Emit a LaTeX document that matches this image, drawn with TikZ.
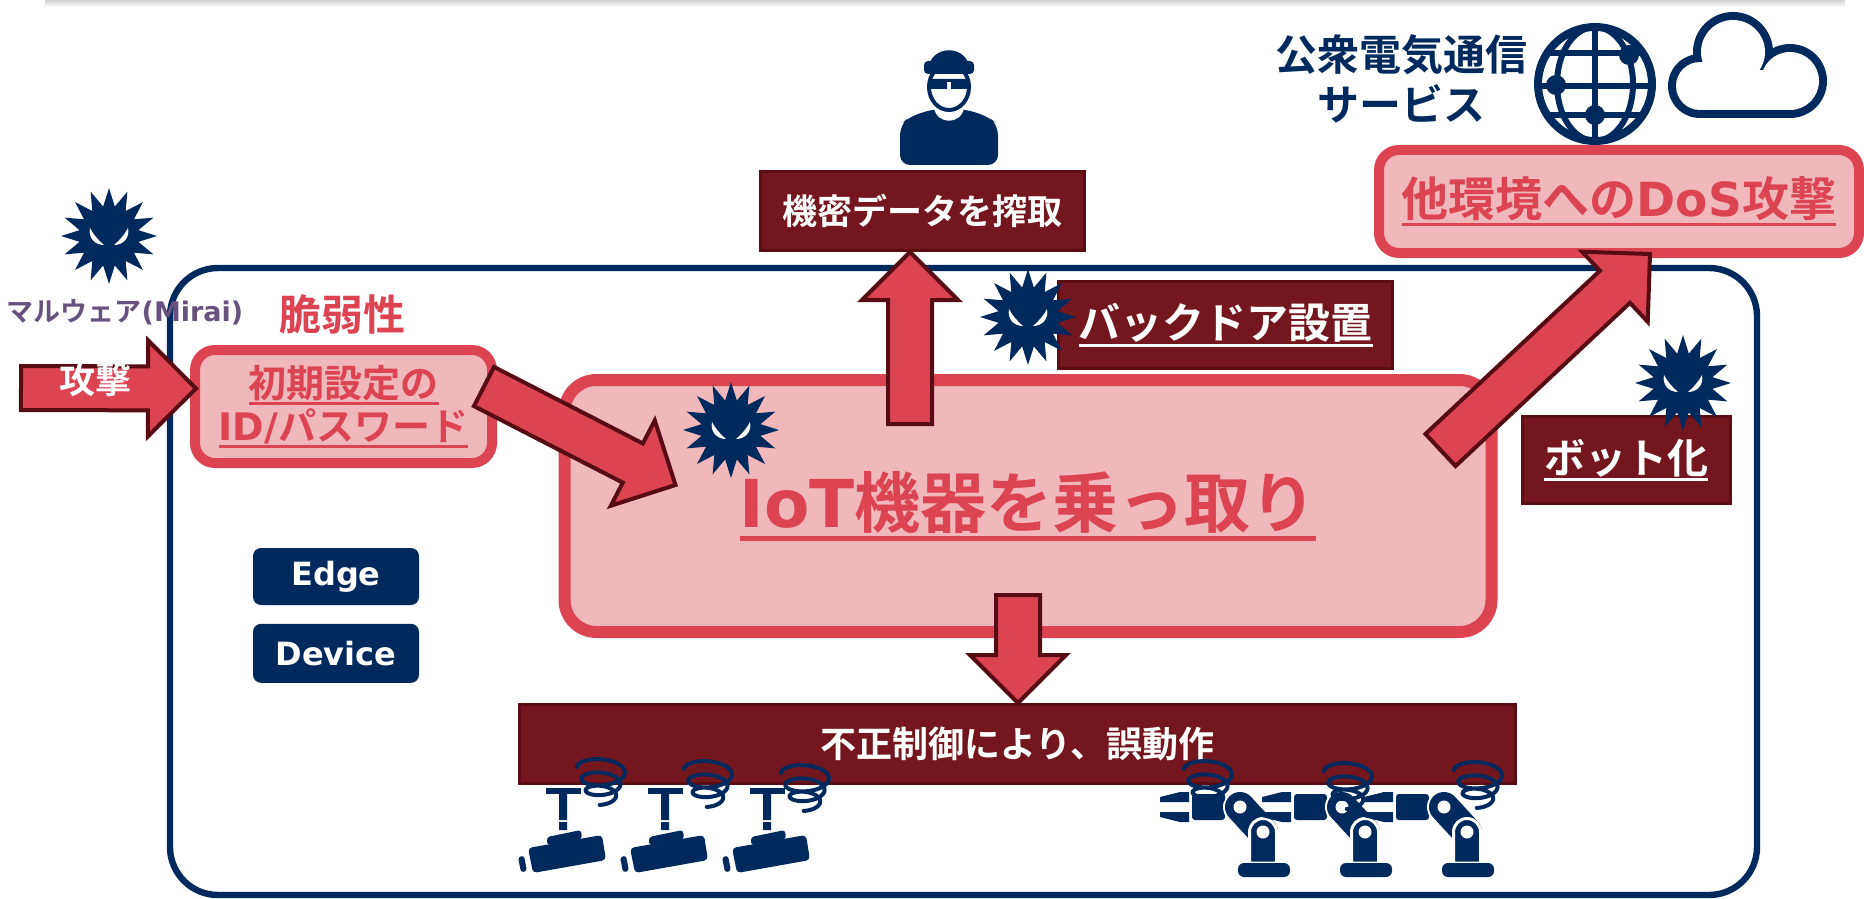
\documentclass[tikz,border=0pt]{standalone}
\usepackage{fontspec}
\setmainfont{Noto Sans CJK JP}[BoldFont={Noto Sans CJK JP Bold}]
\newfontfamily\lat{DejaVu Sans}
\usetikzlibrary{calc,positioning,shapes.geometric}
\definecolor{navy}{HTML}{002A5E}
\definecolor{alarm}{HTML}{DB4450}
\definecolor{blush}{HTML}{F1B8BB}
\definecolor{wine}{HTML}{74161D}
\definecolor{wineline}{HTML}{5A0E14}
\definecolor{arrowline}{HTML}{560C12}
\definecolor{mirai}{HTML}{66517F}

% thick underline for the highlighted labels
\newcommand{\uln}[1]{\leavevmode\setbox0=\hbox{#1}\rlap{\rule[-0.2em]{\wd0}{0.075em}}\box0}

% fat outlined arrow from #1 to #2
\newcommand{\blockarrow}[2]{%
  \coordinate (neck) at ($(#2)!24pt!(#1)$);
  \draw[bigarrow] ($(#1)!11pt!90:(#2)$) -- ($(neck)!11pt!90:(#2)$) -- ($(neck)!24pt!90:(#2)$)
    -- (#2) -- ($(neck)!24pt!-90:(#2)$) -- ($(neck)!11pt!-90:(#2)$) -- ($(#1)!11pt!-90:(#2)$) -- cycle;
}

\tikzset{
  pinkbox/.style={draw=alarm, fill=blush, inner sep=0pt, align=center, text=alarm},
  winebox/.style={draw=wineline, fill=wine, line width=1.5pt, inner sep=0pt, text=white},
  tagbox/.style={fill=navy, rounded corners=4pt, text=white, minimum width=83pt, minimum height=28.5pt,
    inner sep=0pt, font=\lat\bfseries\fontsize{16}{18}\selectfont},
  bigarrow/.style={draw=arrowline, fill=alarm, line width=2pt},
  virus/.pic={
    \node[star, star points=16, star point ratio=1.6, fill=navy, minimum size=48pt, inner sep=0pt] {};
    \fill[white] (-19,-8) .. controls (-21,2) and (-14,9) .. (-5,9) .. controls (-11,4) and (-16,-2) .. cycle;
    \fill[white] (19,-8) .. controls (21,2) and (14,9) .. (5,9) .. controls (11,4) and (16,-2) .. cycle;
  },
  intruder/.pic={
    \fill[navy, rounded corners=5pt] (-49,80) -- (-49,40) -- (-40,32) -- (-16,24) -- (16,24) -- (40,32) -- (49,40) -- (49,80) -- cycle;
    \fill[white] (-15,23) .. controls (-12,40) and (12,40) .. (15,23) -- cycle;
    \filldraw[fill=white, draw=navy, line width=2pt] (0,2) ellipse[x radius=20, y radius=23];
    \fill[navy] (-21,-13) .. controls (-21,-42) and (21,-42) .. (21,-13) -- cycle;
    \fill[navy, rounded corners=2pt] (-25,-24) rectangle (25,-11);
    \fill[navy] (-18,-6) rectangle (-2,4) (2,-6) rectangle (18,4) (-2,-6) rectangle (2,-3);
  },
  globe/.pic={
    \draw[navy, line width=4pt] (0,0) circle[radius=57];
    \begin{scope}
      \clip (0,0) circle[radius=57];
      \draw[navy, line width=3pt] (0,-60) -- (0,60) (-60,-31) -- (60,-31) (-60,2) -- (60,2) (-60,31) -- (60,31);
      \draw[navy, line width=3pt] (0,0) ellipse[x radius=38, y radius=57];
    \end{scope}
    \fill[navy] (34,-29) circle[radius=10] (-39,1) circle[radius=10] (0,31) circle[radius=10];
  },
  cloud/.pic={
    \fill[navy] (-47,21) circle[radius=32];
    \fill[navy] (-14,-13) circle[radius=40];
    \fill[navy] (43,16) circle[radius=37];
    \fill[navy] (-47,5) rectangle (43,53);
    \fill[white] (-47,21) circle[radius=24];
    \fill[white] (-14,-13) circle[radius=32];
    \fill[white] (43,16) circle[radius=29];
    \fill[white] (-47,5) rectangle (43,45);
  },
  camera/.pic={
    \fill[navy] (-17,-2) rectangle (18,4);
    \fill[navy] (-4,4) rectangle (4,30) (-4,32) rectangle (4,40);
    \fill[navy, rounded corners=1.5pt] (-16,55) -- (-16,47) -- (18,40) -- (19,49) -- cycle;
    \fill[navy, rounded corners=2pt] (-35,58) -- (39,45) -- (43,70) -- (-30,83) -- cycle;
    \fill[navy, rounded corners=1.5pt] (-45,67) -- (-39,65.5) -- (-36,81) -- (-42,82.5) -- cycle;
  },
  robot/.pic={
    \fill[navy] (-103,-30) -- (-103,-35) -- (-83,-40) -- (-74,-40) -- (-74,-30) -- cycle;
    \fill[navy] (-103,-20) -- (-74,-20) -- (-74,-10) -- (-83,-10) -- (-103,-15) -- cycle;
    \fill[navy, rounded corners=1.5pt] (-71,-38) rectangle (-38,-12);
    \draw[white, line width=17pt, line cap=round] (-23,-25) -- (0,0);
    \draw[navy, line width=15pt, line cap=round] (-23,-25) -- (0,0);
    \fill[white] (-23,-25) circle[radius=6.5];
    \filldraw[navy, draw=white, line width=1.5pt] (-13.5,31) -- (-13.5,0) arc[start angle=180, end angle=360, radius=13.5] -- (13.5,31) -- cycle;
    \fill[white] (0,0) circle[radius=6.5];
    \fill[navy, rounded corners=3pt] (-25,31) rectangle (27,45);
  },
  dizzy/.pic={
    \draw[navy, line width=2pt, line cap=round] plot[domain=0:1000, samples=140, smooth, variable=\t]
      ({(25-0.012*\t)*cos(\t+180)}, {-3+0.032*\t+(11-0.005*\t)*sin(\t+180)});
  },
}

\begin{document}
\begin{tikzpicture}[x=0.5pt,y=-0.5pt]
  \useasboundingbox (0,0) rectangle (1864,899);
  \shade[top color=black!18, bottom color=white] (45,0) rectangle (1845,7);

  % field of edge devices
  \draw[navy, line width=3.2pt, rounded corners=24pt] (170,268) rectangle (1757,895);

  % boxes
  \node[pinkbox, line width=5pt, rounded corners=10pt, minimum width=148.5pt, minimum height=56.5pt,
    font=\bfseries\fontsize{19}{21.5}\selectfont] (cred) at (343.5,406.5) {\uln{初期設定の}\\\uln{{\lat ID/}パスワード}};
  \node[pinkbox, line width=6pt, rounded corners=16pt, minimum width=463.5pt, minimum height=126pt,
    font=\bfseries\fontsize{33}{40}\selectfont] (iot) at (1028,506) {\uln{{\lat IoT}機器を乗っ取り}};
  \node[pinkbox, line width=5pt, rounded corners=10pt, minimum width=240pt, minimum height=51.5pt,
    font=\bfseries\fontsize{23.5}{28}\selectfont] (dos) at (1619,201.5) {\uln{他環境への{\lat DoS}攻撃}};
  \node[winebox, minimum width=162pt, minimum height=39.5pt, font=\bfseries\fontsize{17.5}{20}\selectfont]
    (secret) at (922,211) {機密データを搾取};
  \node[winebox, minimum width=167pt, minimum height=43.5pt, font=\bfseries\fontsize{21}{24}\selectfont]
    (backdoor) at (1225.5,325) {\uln{バックドア設置}};
  \node[winebox, minimum width=104pt, minimum height=43.5pt, font=\bfseries\fontsize{20.5}{24}\selectfont]
    (bot) at (1626,460) {\uln{ボット化}};
  \node[winebox, minimum width=498pt, minimum height=39.5pt, font=\bfseries\fontsize{18}{20}\selectfont]
    (misop) at (1017.5,744) {不正制御により、誤動作};

  \node[tagbox] (edge) at (336,576.5) {Edge};
  \node[tagbox, minimum height=29.5pt, below=9pt of edge] (device) {Device};

  % arrows
  \coordinate (atk-tail) at (21,388);
  \coordinate (atk-tip) at ($(cred.west)+(6,-18)$);
  \coordinate (take-tail) at ($(cred.east)+(-13,-20)$);
  \coordinate (take-tip) at ($(iot.north west)+(117,111)$);
  \coordinate (up-foot) at ($(iot.north)+(-118,50)$);
  \coordinate (up-tip) at ($(secret.south)+(-12,0)$);
  \coordinate (down-foot) at ($(iot.south)+(-10,-43)$);
  \coordinate (down-tip) at ($(misop.north)+(0.5,0)$);
  \coordinate (dos-foot) at ($(iot.east)+(-57,-56)$);
  \coordinate (dos-tip) at ($(dos.south)+(31,-4)$);
  \blockarrow{atk-tail}{atk-tip}
  \blockarrow{take-tail}{take-tip}
  \blockarrow{up-foot}{up-tip}
  \blockarrow{down-foot}{down-tip}
  \blockarrow{dos-foot}{dos-tip}

  % labels
  \node[text=white, font=\bfseries\fontsize{18}{20}\selectfont] (attack) at (95,380) {攻撃};
  \node[text=mirai, font=\bfseries\fontsize{13.5}{16}\selectfont] (malware) at (125,312) {マルウェア{\lat (Mirai)}};
  \node[text=alarm, font=\bfseries\fontsize{21}{24}\selectfont] (weak) at (342,314) {脆弱性};
  \node[text=navy, align=center, font=\bfseries\fontsize{21}{25}\selectfont] (carrier) at (1401,79) {公衆電気通信\\サービス};

  % icons
  \foreach \p in {(109,236),(731,430),(1028,317),(1683,383)}
    \pic at \p {virus};
  \pic at (949,85) {intruder};
  \pic at (1595,84) {globe};
  \pic at (1747,65) {cloud};
  \foreach \x in {563,665,767}
    \pic at (\x,790) {camera};
  \foreach \x in {1263,1365,1467}
    \pic at (\x,832) {robot};
  \foreach \x/\y in {602/770,709/772,806/776,1209/772,1349/774,1479/773}
    \pic at (\x,\y) {dizzy};
\end{tikzpicture}
\end{document}
